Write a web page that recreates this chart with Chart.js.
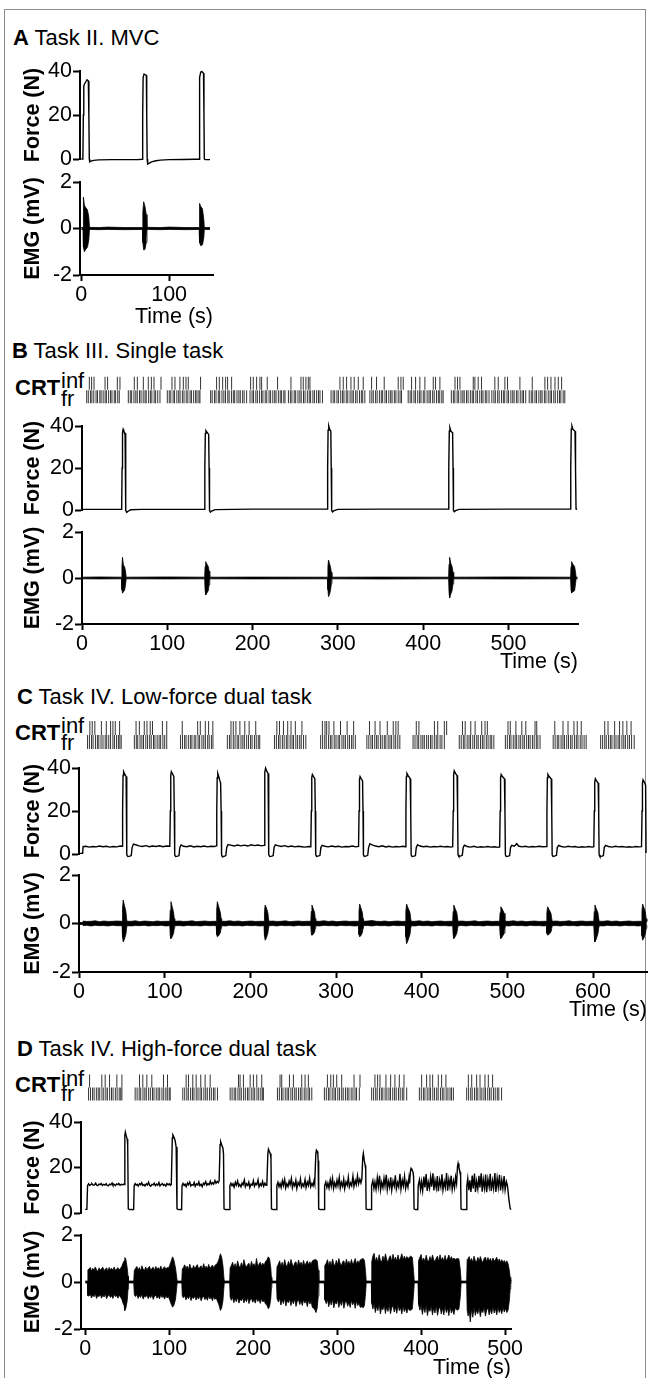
<!DOCTYPE html>
<html><head><meta charset="utf-8">
<script src="https://cdn.jsdelivr.net/npm/chart.js@4.4.1/dist/chart.umd.min.js"></script>
<style>
body{margin:0;background:#fff;}
#fig{position:relative;width:649px;height:1378px;overflow:hidden;background:#fff;font-family:"Liberation Sans",Arial,sans-serif;color:#000;}
#frame{position:absolute;left:4px;top:9px;width:642px;height:1400px;border:1.5px solid #8c8c8c;box-sizing:border-box;}
.t{position:absolute;font-size:22px;line-height:22px;white-space:nowrap;}
.b{font-weight:bold;}
canvas{position:absolute;left:0;}
</style></head><body>
<div id="fig"><div id="frame"></div>
<div class="t" style="left:13px;top:27px"><span class="b">A</span> Task II. MVC</div>
<div class="t" style="left:12px;top:340px"><span class="b">B</span> Task III. Single task</div>
<div class="t" style="left:17px;top:686px"><span class="b">C</span> Task IV. Low-force dual task</div>
<div class="t" style="left:17px;top:1038px"><span class="b">D</span> Task IV. High-force dual task</div>
<div class="t b" style="left:15px;top:377px">CRT</div><div class="t" style="left:61px;top:369.5px">inf</div><div class="t" style="left:61px;top:387.5px">fr</div>
<div class="t b" style="left:15px;top:722px">CRT</div><div class="t" style="left:61px;top:714.5px">inf</div><div class="t" style="left:61px;top:731.5px">fr</div>
<div class="t b" style="left:15px;top:1074px">CRT</div><div class="t" style="left:61px;top:1067.5px">inf</div><div class="t" style="left:61px;top:1083px">fr</div>
</div>
<script>
// ---------------- DATA ----------------
const forceTickVals = [0, 10, 20, 30, 40];
const forceTickLabels = [0, 20, 40];
const emgTickVals = [-2, -1, 0, 1, 2];
const emgTickLabels = [-2, 0, 2];
const timeTicksA = [0, 100];
const timeTicksB = [0, 100, 200, 300, 400, 500];
const timeTicksC = [0, 100, 200, 300, 400, 500, 600];
const timeTicksD = [0, 100, 200, 300, 400, 500];

// force traces [time s, force N]
const forceA = [[0,0],[1.8,0],[2.3,20],[2.8,33],[3.5,34],[5,35],[6.5,36],[8,35.5],[8.6,20],[9.1,0],[9.6,-1.3],[11,-1],[14,-0.6],[20,-0.4],[35,-0.3],[50,-0.3],[65,-0.2],[69.5,-0.1],[69.9,20],[70.4,37],[71.5,38.6],[73,38.3],[74.1,38],[74.5,20],[75,0],[75.6,-2.3],[77,-2],[80,-1.3],[85,-0.8],[90,-0.5],[100,-0.3],[115,-0.2],[130,-0.1],[134.1,-0.1],[134.5,20],[135,37],[136,39.5],[137.5,39.7],[139.2,39],[139.7,20],[140.1,0],[141,-0.3],[146.6,-0.3]];

const forceB = [[0,0.3],[20,0.3],[46.5,0.3],[47,20],[47.5,37],[48.2,38.4],[49,37.5],[50.5,36.5],[51,20],[51.5,-0.2],[52.5,-1.1],[54,-0.6],[57,0.1],[70,0.3],[100,0.3],[143.5,0.3],[144,20],[144.6,36.5],[145.3,37.8],[146.5,37],[148.5,36],[149,20],[149.5,-0.2],[150.5,-1],[152,-0.5],[156,0.2],[200,0.4],[240,0.4],[287.5,0.4],[288,20],[288.5,38],[289.3,40],[290.3,38.5],[291.7,37.5],[292.2,20],[292.7,-0.2],[293.7,-0.9],[295.5,-0.3],[300,0.3],[350,0.4],[429.5,0.4],[430,20],[430.6,37.5],[431.3,39.2],[432.5,37.5],[434.5,36.8],[435,20],[435.5,-0.2],[436.5,-0.8],[438,-0.3],[442,0.3],[500,0.4],[572.5,0.4],[573,20],[573.6,38.5],[574.4,40],[575.5,38.5],[578,37.5],[578.6,20],[579.2,0.5],[580.5,0.3]];

const forceC = [[0,0.3],[4.2,0.3],[4.8,3.4],[8,3.6],[12,3.2],[16,3.5],[20,3.3],[24,3.7],[28,3.4],[32,3.6],[36,3.2],[40,3.5],[44,3.3],[48,3.7],
[50.4,3.6],[50.9,20],[51.4,36.5],[52.1,38.3],[53.6,37],[55,36],[55.5,20],[56,-0.4],[57,-1.2],[59.5,-1],[61,-0.7],[62,3],[63.5,4.6],[66,4.3],[70,3.8],[74,3.5],[78,3.9],[82,3.4],[86,3.7],[90,3.5],[94,3.8],[98,3.4],[102,3.7],[106,3.6],
[106.6,20],[107.1,36.5],[107.8,38.3],[109.3,37.2],[110.7,36],[111.2,20],[111.7,-0.4],[112.7,-1.2],[115.2,-1],[116.7,-0.7],[117.7,3],[119.2,4.2],[122,3.6],[126,3.4],[130,3.8],[134,3.3],[138,3.6],[142,3.4],[146,3.7],[150,3.3],[154,3.6],[158,3.5],[160.2,3.8],
[160.8,20],[161.3,35.5],[162,37.5],[163.2,36],[164.5,34],[165.3,33],[165.9,20],[166.4,-0.4],[167.4,-1.3],[170,-1],[171.4,-0.7],[172.4,3],[174,4.4],[177,4.1],[181,3.7],[185,4.2],[189,3.8],[193,4.1],[197,3.7],[201,4.3],[205,3.9],[209,4.2],[213,3.8],[216,4],
[216.6,20],[217.1,38],[217.8,40],[219.2,38.5],[220.7,37.5],[221.2,20],[221.7,-0.4],[222.7,-1.2],[225.2,-1],[226.7,-0.7],[227.7,3],[229.2,4.3],[232,3.9],[236,3.5],[240,3.9],[244,3.4],[248,3.7],[252,3.3],[256,3.6],[260,3.4],[264,3.2],[268,3.5],[270.6,3.4],
[271.2,20],[271.7,35.5],[272.4,37],[273.8,36],[275.3,35],[275.8,20],[276.3,-0.4],[277.3,-1.1],[279.8,-0.9],[281.3,-0.6],[282.3,3],[283.8,4],[287,3.6],[291,3.3],[295,3.7],[299,3.4],[303,3.6],[307,3.2],[311,3.5],[315,3.4],[319,3.7],[323,3.3],[326.3,3.5],
[326.9,20],[327.4,34.5],[328.1,36],[329.5,35],[331,34],[331.5,20],[332,-0.4],[333,-1.1],[335.5,-0.9],[337,-0.6],[338,3],[339.5,4.8],[342,4.2],[346,3.7],[350,3.4],[354,3.8],[358,3.3],[362,3.6],[366,3.2],[370,3.5],[374,3.3],[378,3.6],[381,3.4],
[381.6,20],[382.1,36],[382.8,37.5],[384.2,36.5],[386.6,35],[387.2,20],[387.7,-0.4],[388.7,-1.2],[391.2,-1],[392.7,-0.7],[393.7,3],[395.2,4.3],[398,3.7],[402,3.4],[406,3.6],[410,3.2],[414,3.5],[418,3.3],[422,3.6],[426,3.3],[430,3.5],[434,3.2],[436.2,3.4],
[436.8,20],[437.3,37],[438,38.7],[439.4,37.5],[441.3,36.5],[441.9,20],[442.4,-0.4],[443.4,-1.1],[445.9,-0.9],[447.4,-0.6],[448.4,3],[449.9,4.1],[453,3.5],[457,3.2],[461,3.6],[465,3.1],[469,3.4],[473,3.2],[477,3.5],[481,3.2],[485,3.4],[489,3.1],[491,3.3],
[491.6,20],[492.1,35.5],[492.8,37],[494.2,36],[496.6,35],[497.2,20],[497.7,-0.4],[498.7,-1.2],[501.2,-1],[502.7,-0.7],[503.7,3],[505.2,4],[508,3.6],[511,4.8],[513,3.7],[517,3.3],[521,3.6],[525,3.2],[529,3.5],[533,3.3],[537,3.6],[541,3.4],[545.6,3.5],
[546.2,20],[546.7,35.5],[547.4,37],[548.8,36],[551.2,35],[551.8,20],[552.3,-0.4],[553.3,-1.1],[555.8,-0.9],[557.3,-0.6],[558.3,3],[559.8,4],[563,3.5],[567,3.2],[571,3.6],[575,3.3],[579,3.5],[583,3.1],[587,3.4],[591,3.2],[595,3.5],[599,3.2],[600.9,3.4],
[601.5,20],[602,33.5],[602.7,35],[604.1,34],[606,33],[606.6,20],[607.1,-0.4],[608.1,-1.2],[610.6,-1],[612.1,-0.7],[613.1,3],[614.6,4],[618,3.5],[622,3.2],[626,3.6],[630,3.3],[634,3.5],[638,3.2],[642,3.4],[646,3.2],[650,3.5],[654,3.3],[656.6,3.4],
[657.2,20],[657.7,33],[658.4,34.5],[659.8,33.5],[661.4,32],[661.9,0.5]];

const forceD = [[0,1.6],[2,1.6],[2.8,12],
[4,12.8],[5.5,12.1],[7,12.6],[8,12.9],[9.5,12.2],[11,12.4],[12.5,13.1],[13.5,12.3],[15,12],[16.5,12.7],[18,12.5],[19,13],[20.5,12.1],[22,12.6],[23.5,12.3],[25,12.9],[26,12.2],[27.5,11.9],[29,12.7],[30.5,12.4],[32,13.2],[33,12.3],[34.5,12.6],[36,12],[37.5,12.8],[39,12.5],[40,13],[41.5,12.2],[43,12.6],[44.5,12.4],[45.8,12.7],
[46.4,12.5],[47.2,34],[47.8,35.5],[48.8,34],[50,32.5],[50.6,30],[51.3,1.8],[53,1.5],[55,1.6],[57.7,1.5],[58.3,12],
[59.5,12.9],[60.8,12.2],[62,12.6],[63.2,11.8],[64.8,12.9],[66,12.4],[67.3,13.3],[68.5,12.1],[70,12.5],[71.2,11.9],[72.8,12.8],[74,12.3],[75.5,13.5],[76.6,12.2],[78,11.8],[79.5,12.6],[80.8,12.4],[82.2,13.1],[83.5,12],[85,12.7],[86.3,12.2],[87.8,13.4],[89,11.9],[90.5,12.5],[91.8,12.9],[93.2,12.1],[94.5,12.6],[96,11.8],[97.3,13],[98.8,12.4],[100.2,12.8],[101.5,12.1],[102.5,12.5],
[103.7,33],[104.4,34.3],[105.5,33.5],[107,32],[108.3,29],[109.3,1.8],[111,1.5],[113,1.6],[114.8,1.5],[115.3,12],
[116.5,13],[117.8,12.1],[119,12.7],[120.3,11.6],[121.8,13.2],[123,12.4],[124.5,13.6],[125.7,11.9],[127,12.5],[128.5,12.2],[129.8,13.4],[131,11.7],[132.5,12.8],[134,12.3],[135.3,13.7],[136.5,12],[138,12.6],[139.3,11.6],[140.8,13.1],[142,12.5],[143.5,13.8],[144.8,12.2],[146.2,12.9],[147.5,12.4],[149,14],[150.2,12.6],[151.7,13.3],[153,12.7],[154.5,14.3],[155.8,13.1],[157.2,13.9],[158.5,13.3],[159.5,14.2],
[160.6,30],[161.3,31.3],[162.5,30],[164,28.5],[164.7,26],[165.3,1.8],[167,1.5],[169,1.6],[171.8,1.5],[172.3,12],
[173.5,13.1],[174.8,12],[176,12.8],[177.3,11.3],[178.8,13.5],[180,12.2],[181.5,14.1],[182.7,11.8],[184,12.6],[185.5,11.5],[186.8,13.2],[188,12.4],[189.5,14.5],[190.7,11.6],[192,12.9],[193.5,12.1],[194.8,13.6],[196,11.2],[197.5,12.7],[199,12.3],[200.3,14.2],[201.5,11.7],[203,13],[204.3,12.4],[205.8,14.6],[207,11.5],[208.5,12.8],[209.8,12],[211.2,13.9],[212.5,11.8],[214,13.1],[215.3,12.2],[216.3,12.7],
[217.5,26],[218.2,28],[219.3,27],[220.5,26],[221.2,24],[221.8,1.8],[224,1.5],[226,1.6],[227.7,1.5],[228.2,12],
[229.5,13.5],[230.8,11.6],[232,13],[233.3,11.2],[234.8,14.2],[236,12.1],[237.5,14.8],[238.7,11],[240,12.9],[241.5,11.6],[242.8,14],[244,12.4],[245.5,15.2],[246.7,11.1],[248,13.2],[249.5,11.9],[250.8,14.4],[252,10.8],[253.5,13.4],[255,12.2],[256.3,15],[257.5,11.4],[259,12.8],[260.3,11.7],[261.8,14.7],[263,11.2],[264.5,13.6],[265.8,12.1],[267.2,15.3],[268.5,11.5],[270,13],[271.3,11.9],[272.5,14.2],[273.3,12.8],
[274.6,26],[275.3,27.6],[276.4,27],[277,26],[277.4,23],[278,1.8],[280,1.5],[282,1.6],[284.6,1.5],[285.1,12],
[286.5,13.6],[287.8,11.2],[289,13.1],[290.3,10.9],[291.8,14.6],[293,11.8],[294.5,15.3],[295.7,10.8],[297,13.3],[298.5,11.5],[299.8,14.4],[301,12],[302.5,15.6],[303.7,11],[305,13.5],[306.5,11.7],[307.8,14.8],[309,10.7],[310.5,13.7],[312,12.2],[313.3,15.8],[314.5,11.4],[316,13.2],[317.3,12],[318.8,16.2],[320,11.6],[321.5,14.3],[322.8,12.5],[324.2,16.4],[325.5,12.8],[327,14.9],[328.3,13.2],[329.4,15],
[330.5,24.5],[331.2,26.2],[332.3,23],[333.3,21],[334,19],[334.5,1.8],[336.5,1.5],[338.5,1.6],[340.5,1.5],[341,12],
[342.5,14.2],[343.8,10.8],[345,13.6],[346.3,10.4],[347.8,15.5],[349,11.5],[350.5,16.4],[351.7,10.2],[353,13.5],[354.5,11.1],[355.8,15.2],[357,11.9],[358.5,16.8],[359.7,10.3],[361,13.9],[362.5,11.3],[363.8,15.7],[365,10.1],[366.5,14.1],[368,11.8],[369.3,16.6],[370.5,10.6],[372,13.4],[373.3,11.5],[374.8,17.2],[376,10.5],[377.5,14.4],[378.8,11.9],[380.2,16.1],[381.5,10.8],[383,13.7],[384.3,11.4],[385.5,15.4],[386.2,13],
[387.3,18.5],[388,19.6],[389,19],[390.3,18],[391,16],[391.6,1.8],[393,1.5],[395,1.6],[396,1.5],[396.5,12],
[398,14.6],[399.3,10.3],[400.5,13.8],[401.8,9.8],[403.3,16],[404.5,11.2],[406,17.1],[407.2,9.7],[408.5,13.6],[410,10.9],[411.3,15.8],[412.5,11.6],[414,17.4],[415.2,9.9],[416.5,14.4],[418,11],[419.3,16.2],[420.5,9.6],[422,14.6],[423.5,11.5],[424.8,17],[426,10.1],[427.5,13.8],[428.8,11.2],[430.3,17.6],[431.5,9.8],[433,14.8],[434.3,11.6],[435.8,16.4],[437,10.4],[438.5,14.1],[439.8,11.1],[441,15.8],[442.2,13],
[443.3,20.5],[444,21.8],[445,20],[446.4,18],[447,16],[447.5,1.8],[449.5,1.5],[451.5,1.6],[453.9,1.5],[454.4,12],
[455.5,15.2],[456.8,10],[458,14.4],[459.3,9.3],[460.8,16.5],[462,10.8],[463.5,17.3],[464.7,9.2],[466,14],[467.5,10.6],[468.8,16.4],[470,11.2],[471.5,17.5],[472.7,9.4],[474,14.8],[475.5,10.9],[476.8,16.9],[478,9.1],[479.5,15],[481,11.4],[482.3,17.2],[483.5,9.7],[485,14.2],[486.3,10.8],[487.8,17.6],[489,9.3],[490.5,15.4],[491.8,11.3],[493.3,16.8],[494.5,9.9],[496,14.6],[497.3,10.7],[498.8,16.2],[500,10.2],[501.5,13.8],[502.8,12],[504.5,6],[506,2],[507,1.5]];

// EMG envelopes [time s, lower mV, upper mV]
const emgA = [[0,-0.04,0.04],[2,-0.04,0.04],[2.4,-0.8,1.35],[3.5,-1.0,1.0],[5,-0.9,0.9],[7,-0.8,0.8],[8.5,-0.5,0.5],[9.3,-0.04,0.05],[20,-0.05,0.04],[30,-0.04,0.06],[50,-0.05,0.04],[69.6,-0.04,0.04],[70.1,-0.6,0.7],[71,-0.92,1.15],[72.5,-0.9,0.95],[74,-0.6,0.6],[74.8,-0.04,0.05],[90,-0.05,0.04],[100,-0.04,0.06],[120,-0.05,0.04],[134.2,-0.04,0.04],[134.7,-0.6,1.08],[136,-0.74,0.95],[138,-0.7,0.85],[139.5,-0.4,0.4],[140.1,-0.04,0.04],[146.6,-0.04,0.04]];

const emgB = [[0,-0.035,0.035],[20,-0.04,0.045],[46.3,-0.035,0.035],[46.8,-0.5,0.5],[47.5,-0.66,0.9],[48.5,-0.6,0.56],[49.8,-0.55,0.5],[51,-0.3,0.3],[51.8,-0.035,0.035],[100,-0.04,0.045],[143.8,-0.035,0.035],[144.3,-0.5,0.5],[145,-0.74,0.71],[146.5,-0.65,0.6],[148,-0.55,0.5],[149,-0.3,0.3],[149.8,-0.035,0.035],[200,-0.04,0.04],[287.8,-0.035,0.035],[288.3,-0.5,0.5],[289,-0.81,0.78],[290.3,-0.7,0.62],[291.5,-0.5,0.45],[292.3,-0.25,0.25],[293,-0.035,0.035],[350,-0.045,0.04],[429.8,-0.035,0.035],[430.3,-0.6,0.6],[431,-0.87,0.9],[432.3,-0.7,0.65],[433.8,-0.55,0.5],[435,-0.25,0.25],[435.8,-0.035,0.035],[500,-0.04,0.045],[572.8,-0.035,0.035],[573.3,-0.5,0.5],[574,-0.64,0.71],[575.5,-0.6,0.6],[577.5,-0.55,0.5],[578.6,-0.25,0.25],[579.3,-0.035,0.035],[581,-0.035,0.035]];

const emgC = [[0,-0.04,0.04],[4.3,-0.04,0.04],[4.9,-0.09,0.1],[9,-0.075,0.085],[14,-0.1,0.09],[19,-0.075,0.11],[24,-0.09,0.075],[29,-0.085,0.1],[34,-0.1,0.085],[39,-0.075,0.09],[44,-0.09,0.1],[50.3,-0.09,0.09],
[50.8,-0.55,0.6],[51.6,-0.76,0.97],[53,-0.65,0.75],[54.7,-0.45,0.5],[55.5,-0.2,0.2],[56.1,-0.09,0.09],
[61,-0.1,0.09],[66,-0.085,0.11],[71,-0.09,0.075],[76,-0.075,0.1],[81,-0.1,0.09],[86,-0.085,0.075],[91,-0.09,0.1],[96,-0.075,0.085],[101,-0.1,0.09],[106,-0.09,0.09],
[106.5,-0.5,0.55],[107.3,-0.62,0.9],[108.7,-0.55,0.7],[110.4,-0.4,0.45],[111.2,-0.2,0.2],[111.8,-0.09,0.09],
[117,-0.085,0.1],[122,-0.1,0.085],[127,-0.075,0.09],[132,-0.09,0.11],[137,-0.085,0.075],[142,-0.1,0.09],[147,-0.075,0.1],[152,-0.09,0.085],[157,-0.085,0.09],[160.2,-0.09,0.09],
[160.7,-0.45,0.55],[161.5,-0.55,0.9],[163,-0.5,0.7],[165,-0.38,0.45],[165.9,-0.2,0.2],[166.5,-0.09,0.09],
[171,-0.1,0.09],[176,-0.075,0.11],[181,-0.09,0.085],[186,-0.085,0.1],[191,-0.1,0.075],[196,-0.075,0.09],[201,-0.09,0.1],[206,-0.085,0.085],[211,-0.1,0.09],[216,-0.09,0.09],
[216.5,-0.5,0.5],[217.3,-0.69,0.76],[218.7,-0.6,0.65],[220.4,-0.4,0.45],[221.2,-0.2,0.2],[221.8,-0.09,0.09],
[226,-0.085,0.1],[231,-0.1,0.085],[236,-0.075,0.09],[241,-0.09,0.11],[246,-0.085,0.075],[251,-0.1,0.09],[256,-0.075,0.1],[261,-0.09,0.085],[266,-0.085,0.09],[270.6,-0.09,0.09],
[271.1,-0.4,0.5],[271.9,-0.48,0.76],[273.3,-0.45,0.62],[275,-0.35,0.45],[275.8,-0.2,0.2],[276.4,-0.09,0.09],
[281,-0.1,0.09],[286,-0.075,0.11],[291,-0.09,0.085],[296,-0.085,0.1],[301,-0.1,0.075],[306,-0.075,0.09],[311,-0.09,0.1],[316,-0.085,0.085],[321,-0.1,0.09],[326.3,-0.09,0.09],
[326.8,-0.45,0.5],[327.6,-0.55,0.8],[329,-0.5,0.65],[330.7,-0.38,0.45],[331.5,-0.2,0.2],[332.1,-0.09,0.09],
[337,-0.085,0.1],[342,-0.1,0.12],[347,-0.075,0.09],[352,-0.09,0.085],[357,-0.085,0.1],[362,-0.1,0.075],[367,-0.075,0.09],[372,-0.09,0.1],[377,-0.085,0.085],[381,-0.09,0.09],
[381.5,-0.55,0.5],[382.4,-0.83,0.8],[384,-0.7,0.65],[386.3,-0.45,0.45],[387.2,-0.2,0.2],[387.8,-0.09,0.09],
[392,-0.1,0.09],[397,-0.075,0.11],[402,-0.09,0.085],[407,-0.085,0.1],[412,-0.1,0.075],[417,-0.075,0.09],[422,-0.09,0.1],[427,-0.085,0.085],[432,-0.1,0.09],[436.2,-0.09,0.09],
[436.7,-0.45,0.5],[437.5,-0.62,0.76],[439,-0.55,0.62],[441,-0.4,0.45],[441.9,-0.2,0.2],[442.5,-0.09,0.09],
[447,-0.085,0.1],[452,-0.1,0.085],[457,-0.075,0.09],[462,-0.09,0.11],[467,-0.085,0.075],[472,-0.1,0.09],[477,-0.075,0.1],[482,-0.09,0.085],[487,-0.085,0.09],[491,-0.09,0.09],
[491.5,-0.45,0.45],[492.4,-0.62,0.69],[494,-0.55,0.6],[496.3,-0.4,0.42],[497.2,-0.2,0.2],[497.8,-0.09,0.09],
[502,-0.1,0.09],[507,-0.075,0.11],[512,-0.09,0.085],[517,-0.085,0.1],[522,-0.1,0.075],[527,-0.075,0.09],[532,-0.09,0.1],[537,-0.085,0.085],[542,-0.1,0.09],[545.6,-0.09,0.09],
[546.1,-0.4,0.45],[547,-0.48,0.69],[548.6,-0.45,0.58],[550.9,-0.35,0.42],[551.8,-0.2,0.2],[552.4,-0.09,0.09],
[557,-0.085,0.1],[562,-0.1,0.085],[567,-0.075,0.09],[572,-0.09,0.11],[577,-0.085,0.075],[582,-0.1,0.09],[587,-0.075,0.1],[592,-0.09,0.085],[597,-0.085,0.09],[600.9,-0.09,0.09],
[601.4,-0.5,0.5],[602.2,-0.76,0.76],[603.7,-0.65,0.62],[605.7,-0.42,0.45],[606.6,-0.2,0.2],[607.2,-0.09,0.09],
[612,-0.1,0.09],[617,-0.075,0.11],[622,-0.09,0.085],[627,-0.085,0.1],[632,-0.1,0.075],[637,-0.075,0.09],[642,-0.09,0.1],[647,-0.085,0.085],[652,-0.1,0.09],[656.6,-0.09,0.09],
[657.1,-0.5,0.5],[657.9,-0.69,0.8],[659.4,-0.6,0.65],[661.2,-0.4,0.45],[662,-0.2,0.2],[662.8,-0.08,0.08]];

const emgD = [[0,-0.04,0.04],[2.6,-0.04,0.04],[3.2,-0.58,0.52],
[4.5,-0.6,0.55],[6,-0.52,0.62],[7.5,-0.68,0.47],[9,-0.55,0.58],[10.5,-0.63,0.5],[12,-0.5,0.64],[13.5,-0.7,0.52],[15,-0.58,0.45],[16.5,-0.62,0.6],[18,-0.53,0.5],[19.5,-0.69,0.57],[21,-0.56,0.63],[22.5,-0.64,0.48],[24,-0.51,0.55],[25.5,-0.71,0.6],[27,-0.6,0.46],[28.5,-0.54,0.62],[30,-0.66,0.53],[31.5,-0.58,0.58],[33,-0.7,0.5],[34.5,-0.52,0.64],[36,-0.63,0.49],[37.5,-0.57,0.56],[39,-0.69,0.61],[40.5,-0.55,0.52],[42,-0.65,0.58],[43.5,-0.72,0.66],
[45,-0.9,0.8],[46.3,-1.0,0.9],[47.2,-1.21,1.04],[48.5,-1.1,0.95],[50,-0.8,0.6],[51,-0.3,0.25],[51.5,-0.04,0.04],[57.8,-0.04,0.04],[58.5,-0.55,0.5],
[60,-0.62,0.58],[61.5,-0.53,0.66],[63,-0.7,0.5],[64.5,-0.57,0.62],[66,-0.66,0.47],[67.5,-0.52,0.69],[69,-0.73,0.55],[70.5,-0.6,0.49],[72,-0.64,0.64],[73.5,-0.55,0.52],[75,-0.71,0.6],[76.5,-0.58,0.67],[78,-0.67,0.5],[79.5,-0.53,0.58],[81,-0.74,0.63],[82.5,-0.61,0.48],[84,-0.56,0.66],[85.5,-0.69,0.55],[87,-0.6,0.61],[88.5,-0.72,0.52],[90,-0.54,0.68],[91.5,-0.66,0.51],[93,-0.59,0.59],[94.5,-0.73,0.65],[96,-0.57,0.54],[97.5,-0.68,0.62],[99,-0.62,0.58],[100.5,-0.76,0.7],
[102.5,-0.95,0.9],[104,-1.07,1.07],[105.5,-1.0,0.95],[107.5,-0.75,0.6],[108.8,-0.3,0.25],[109.5,-0.04,0.04],[115,-0.04,0.04],[115.6,-0.6,0.55],
[117,-0.68,0.62],[118.5,-0.57,0.73],[120,-0.76,0.55],[121.5,-0.62,0.68],[123,-0.72,0.52],[124.5,-0.56,0.76],[126,-0.79,0.6],[127.5,-0.65,0.54],[129,-0.7,0.7],[130.5,-0.6,0.57],[132,-0.77,0.66],[133.5,-0.63,0.74],[135,-0.73,0.55],[136.5,-0.58,0.63],[138,-0.8,0.69],[139.5,-0.66,0.53],[141,-0.61,0.78],[142.5,-0.75,0.6],[144,-0.65,0.67],[145.5,-0.78,0.56],[147,-0.59,0.75],[148.5,-0.72,0.58],[150,-0.64,0.65],[151.5,-0.8,0.72],[153,-0.62,0.6],[154.5,-0.74,0.7],[156,-0.68,0.76],[157.5,-0.82,0.8],
[159.5,-1.0,1.0],[161,-1.21,1.2],[162.5,-1.1,1.05],[164,-0.8,0.7],[165,-0.3,0.25],[165.6,-0.04,0.04],[172,-0.04,0.04],[172.6,-0.65,0.6],
[174,-0.78,0.7],[175.5,-0.65,0.84],[177,-0.88,0.62],[178.5,-0.7,0.78],[180,-0.84,0.6],[181.5,-0.64,0.9],[183,-0.9,0.68],[184.5,-0.74,0.62],[186,-0.8,0.82],[187.5,-0.67,0.65],[189,-0.89,0.95],[190.5,-0.72,0.72],[192,-0.84,0.63],[193.5,-0.66,0.74],[195,-0.92,0.8],[196.5,-0.76,0.6],[198,-0.7,0.88],[199.5,-0.86,0.68],[201,-0.74,0.78],[202.5,-0.9,0.64],[204,-0.68,1.0],[205.5,-0.83,0.66],[207,-0.73,0.76],[208.5,-0.91,0.84],[210,-0.7,0.68],[211.5,-0.85,0.8],[213,-0.78,0.7],[214.5,-0.92,0.86],
[216.5,-1.0,0.95],[218,-1.14,1.07],[219.5,-1.05,1.0],[221,-0.7,0.6],[221.7,-0.25,0.2],[222.2,-0.04,0.04],[227.8,-0.04,0.04],[228.4,-0.7,0.65],
[230,-0.85,0.76],[231.5,-0.7,0.9],[233,-0.98,0.66],[234.5,-0.75,0.84],[236,-0.92,0.64],[237.5,-0.68,0.95],[239,-1.02,0.72],[240.5,-0.8,0.66],[242,-0.88,0.88],[243.5,-0.72,0.7],[245,-1.0,0.96],[246.5,-0.78,0.76],[248,-0.93,0.65],[249.5,-0.7,0.82],[251,-1.04,0.86],[252.5,-0.82,0.64],[254,-0.76,0.94],[255.5,-0.96,0.72],[257,-0.8,0.84],[258.5,-1.0,0.68],[260,-0.74,0.92],[261.5,-0.9,0.7],[263,-0.79,0.8],[264.5,-1.05,0.9],[266,-0.76,0.72],[267.5,-0.94,0.86],[269,-0.84,0.75],[270.5,-1.08,0.9],
[273,-1.15,0.95],[274.8,-1.3,0.95],[276.3,-1.1,0.9],[277.5,-0.6,0.5],[278.3,-0.04,0.04],[284.7,-0.04,0.04],[285.3,-0.75,0.7],
[287,-0.92,0.8],[288.5,-0.74,0.95],[290,-1.05,0.7],[291.5,-0.8,0.88],[293,-0.98,0.68],[294.5,-0.72,0.98],[296,-1.1,0.76],[297.5,-0.86,0.7],[299,-0.94,0.92],[300.5,-0.76,0.74],[302,-1.08,1.0],[303.5,-0.83,0.8],[305,-1.0,0.68],[306.5,-0.75,0.86],[308,-1.12,0.9],[309.5,-0.88,0.68],[311,-0.8,0.97],[312.5,-1.03,0.76],[314,-0.86,0.88],[315.5,-1.08,0.72],[317,-0.78,0.96],[318.5,-0.97,0.74],[320,-0.84,0.84],[321.5,-1.12,1.0],[323,-0.8,0.76],[324.5,-1.0,0.9],[326,-0.9,0.8],[327.5,-1.08,0.94],
[329.5,-1.05,0.98],[331,-1.1,1.0],[332.5,-1.0,0.92],[333.8,-0.5,0.45],[334.6,-0.04,0.04],[340.6,-0.04,0.04],[341.2,-0.9,0.85],
[342.5,-1.15,1.1],[344,-0.95,1.22],[345.5,-1.3,0.86],[347,-1.02,1.05],[348.5,-1.22,0.84],[350,-0.94,1.16],[351.5,-1.36,0.92],[353,-1.08,0.85],[354.5,-1.18,1.1],[356,-0.98,0.9],[357.5,-1.34,1.2],[359,-1.05,0.96],[360.5,-1.25,0.83],[362,-0.96,1.04],[363.5,-1.35,1.12],[365,-1.1,0.86],[366.5,-1.0,1.18],[368,-1.28,0.92],[369.5,-1.06,1.06],[371,-1.33,0.88],[372.5,-0.98,1.15],[374,-1.22,0.9],[375.5,-1.08,1.02],[377,-1.36,1.2],[378.5,-1.02,0.94],[380,-1.26,1.1],[381.5,-1.12,0.96],[383,-1.32,1.08],[384.5,-1.1,1.0],[385.8,-1.2,1.05],
[387.5,-1.2,1.1],[389.5,-1.15,1.05],[391,-0.5,0.45],[391.8,-0.04,0.04],[396.3,-0.04,0.04],[396.9,-0.95,0.9],
[398.5,-1.2,1.05],[400,-1.0,1.17],[401.5,-1.38,0.88],[403,-1.05,1.02],[404.5,-1.3,0.86],[406,-0.98,1.14],[407.5,-1.43,0.92],[409,-1.12,0.88],[410.5,-1.25,1.08],[412,-1.02,0.9],[413.5,-1.4,1.15],[415,-1.1,0.95],[416.5,-1.32,0.86],[418,-1.0,1.02],[419.5,-1.42,1.1],[421,-1.15,0.87],[422.5,-1.05,1.16],[424,-1.36,0.92],[425.5,-1.1,1.04],[427,-1.4,0.88],[428.5,-1.02,1.13],[430,-1.3,0.9],[431.5,-1.12,1.0],[433,-1.43,1.15],[434.5,-1.05,0.94],[436,-1.32,1.08],[437.5,-1.16,0.95],[439,-1.38,1.02],[440.5,-1.12,0.96],
[443,-1.2,1.0],[445,-1.15,0.98],[446.7,-0.6,0.5],[447.6,-0.04,0.04],[454.2,-0.04,0.04],[454.8,-1.2,0.95],
[456,-1.45,1.0],[457.3,-1.2,1.08],[458.5,-1.7,0.88],[460,-1.15,1.0],[461.5,-1.5,0.84],[463,-1.08,1.1],[464.5,-1.42,0.9],[466,-1.2,0.85],[467.5,-1.35,1.05],[469,-1.1,0.88],[470.5,-1.48,1.08],[472,-1.18,0.92],[473.5,-1.3,0.83],[475,-1.06,1.0],[476.5,-1.45,1.06],[478,-1.2,0.86],[479.5,-1.1,1.04],[481,-1.4,0.9],[482.5,-1.16,1.0],[484,-1.36,0.84],[485.5,-1.05,1.02],[487,-1.32,0.88],[488.5,-1.12,0.96],[490,-1.4,1.05],[491.5,-1.08,0.86],[493,-1.3,0.98],[494.5,-1.15,0.84],[496,-1.35,0.95],[497.5,-1.08,0.82],[499,-1.28,0.92],[500.5,-1.12,0.8],[502,-1.3,0.9],[503.5,-1.2,0.78],[505,-0.8,0.5],[506,-0.3,0.2],[506.7,-0.04,0.04],[508,-0.04,0.04]];

// CRT stimulus times (s): infrequent (inf) and frequent (fr)
const crtB_inf = [8.6,11.3,14.1,27,30,41.4,44.5,61.3,64.9,71.9,77.7,81.3,84.4,92.6,105.5,109,114.8,118.8,121.9,124.6,139,157.8,161,164.9,168.4,170.7,175.4,197.7,200.8,204.7,208.6,210.6,217.2,229.3,245,256.7,259.4,262.5,265.3,267.2,302.4,306.3,310.2,315.3,319.1,323.9,329.7,339.5,345.3,354.3,370.7,373.9,376.6,386.4,391.1,396.1,402,411.8,414.5,419.6,437.3,440.3,443.1,458.7,460.6,464.5,468.4,484,488,495.8,498.9,513.4,527.9,542.7,545.9,549.8,554.5,558.4,562.3];
const crtB_fr = [5.5,7.4,9.9,11.6,13.8,16.5,18.2,20.9,22.4,24.8,27.1,28.6,31.2,33.5,35.1,37.8,39.4,41.9,43.7,
54.3,56.6,58.2,60.9,63.1,64.8,67.4,69.2,71.7,73.9,75.3,78.1,80.2,81.9,84.6,86.3,88.8,91.4,
100,102.3,104.1,106.8,108.5,111.2,113.4,115,117.7,119.6,122.2,124.1,126.7,128.3,130.9,133.2,134.8,137.1,138.3,
150.8,152.6,155.3,157.1,159.8,161.4,164.1,166.3,168.2,170.9,172.5,175.2,177.4,179,181.7,183.9,185.6,188.3,190.1,193,
197,199.4,201.1,203.8,205.6,208.2,210.5,212.1,214.8,216.6,219.3,221.1,223.7,225.9,227.5,230.2,232.4,234,236.6,238,
242,244.3,246.1,248.8,250.5,253.2,255.4,257,259.7,261.5,264.2,266.4,268,270.7,272.5,275.1,277.3,279,281.9,
292,294.4,296.2,298.9,300.6,303.3,305.5,307.1,309.8,311.6,314.3,316.5,318.1,320.8,322.6,325.3,327.5,329.1,331.6,
337.5,339.8,341.5,344.2,346,348.7,350.9,352.5,355.2,357,359.7,361.9,363.5,366.2,368,370.7,372.9,374.6,
382.4,384.7,386.5,389.2,390.9,393.6,395.8,397.4,400.1,401.9,404.6,406.8,408.4,411.1,412.9,415.6,417.8,419.4,421.8,423.4,
433,435.4,437.1,439.8,441.6,444.3,446.5,448.1,450.8,452.6,455.3,457.5,459.1,461.8,463.6,466.3,468.5,470.1,472.8,474.6,477.2,
480.5,482.9,484.6,487.3,489.1,491.8,494,495.6,498.3,500.1,502.8,505,506.6,509.3,511.1,513.8,516,517.6,520.2,
524.3,526.7,528.4,531.1,532.9,535.6,537.8,539.4,542.1,543.9,546.6,548.8,550.4,553.1,554.9,557.6,559.8,561.4,564.1,566];

const crtC_inf = [12.8,15.6,18.7,26.4,32.2,37.3,40,42.8,47.9,67.3,71.2,77,80.2,84,86.7,98.4,103.5,121.8,140,143.1,149,152.9,157.9,179.3,182,185.1,189.8,195.6,200.7,208.5,233.4,236.5,241.2,246.2,250.1,255.2,263,287.1,290.2,292.2,294.9,300.7,308.5,316.3,324,342.7,349.3,355.1,363.7,370.7,373.8,376.5,397.9,401,419.3,423.2,431,433.7,452.4,455.6,462.2,467.3,475.1,479,481.7,506.1,508.8,515.4,522.4,527.1,538,540,561.3,571,576.9,583.9,587.8,592.5,620.2,624.1,631.9,637.7,641.6,646.3,651.3];
const crtC_fr = [10.1,12.3,14.8,16.6,19.4,21.7,23.4,26,28.3,30.9,32.7,35.1,37.2,40,41.8,44.3,46.5,48.2,49.8,
65.3,67.6,69.3,72,74.2,76.1,78.8,80.9,83.4,85.2,87.9,89.6,92.2,94.5,96.3,99,101.1,103.5,
119.8,122.1,124.6,126.3,129,131.4,133.2,135.9,137.8,140.5,142.3,145,147.2,149.1,151.8,153.6,156.2,158,
175,177.5,179.3,182,184.1,186.6,188.4,191.1,193.3,195.1,197.8,200,202.4,204.2,207,209.1,211.5,213.2,
230.6,232.9,235.4,237.2,239.9,242,244.6,246.4,249.1,251.3,253.1,255.8,257.9,260.4,262.2,264.9,267.6,
285.1,287.4,289.9,291.7,294.4,296.6,298.4,301.1,303.2,305.7,307.5,310.2,312.4,314.3,317,319.1,321.6,323.4,326,
339.6,341.9,344.4,346.2,348.9,351.1,352.9,355.6,357.7,360.2,362,364.7,366.9,368.8,371.5,373.6,376.1,378.5,
394.1,396.4,398.9,400.7,403.4,405.6,407.4,410.1,412.2,414.7,416.5,419.2,421.4,423.3,426,428.1,431,
448.6,450.9,453.4,455.2,457.9,460.1,461.9,464.6,466.7,469.2,471,473.7,475.9,477.8,480.5,482.6,485.1,486.9,489.4,
503,505.3,507.8,509.6,512.3,514.5,516.3,519,521.1,523.6,525.4,528.1,530.3,532.2,534.9,537,539.5,541.3,543.9,
559.4,561.7,564.2,566,568.7,570.9,572.7,575.4,577.5,580,581.8,584.5,586.7,588.6,591.3,593.4,595.9,598.3,
615.4,617.7,620.2,622,624.7,626.9,628.7,631.4,633.5,636,637.8,640.5,642.7,644.6,647.3,649.4,651.9,655];

const crtD_inf = [5.2,19.8,23.8,29,37.7,43.7,64.7,68.6,73.4,79.3,93.2,98,120.2,123,128.1,132.1,137.6,142.8,148.8,182.5,184.4,188.4,196.4,200.3,204.3,210.2,232,234,243.2,247.9,257.8,261.8,265.7,288.4,292.4,295.5,299.5,305.4,320.1,327.2,345,348.2,351,358.1,363.7,368.8,374,379.6,400.6,406.5,410.5,413.7,420.4,424.4,429.5,456.2,460.2,466.1,470.1,476,480,485.1];
const crtD_fr = [4,6.3,8.8,10.6,13.3,15.5,17.3,20,22.1,24.6,26.4,29.1,31.3,33.2,35.9,38,40.5,42.3,43.7,
59.5,61.8,64.3,66.1,68.8,71,72.8,75.5,77.6,80.1,81.9,84.6,86.8,88.7,91.4,93.5,96,97.8,100,101.2,
116.2,118.5,121,122.8,125.5,127.7,129.5,132.2,134.3,136.8,138.6,141.3,143.5,145.4,148.1,150.2,152.7,154.5,157.5,
172.6,174.9,177.4,179.2,181.9,184.1,185.9,188.6,190.7,193.2,195,197.7,199.9,201.8,204.5,206.6,209.1,210.9,212.2,
228.9,231.2,233.7,235.5,238.2,240.4,242.2,244.9,247,249.5,251.3,254,256.2,258.1,260.8,262.9,265.4,267.2,269.8,
284.8,287.1,289.6,291.4,294.1,296.3,298.1,300.8,302.9,305.4,307.2,309.9,312.1,314,316.7,318.8,321.3,323.1,326.4,
341.1,343.4,345.9,347.7,350.4,352.6,354.4,357.1,359.2,361.7,363.5,366.2,368.4,370.3,373,375.1,377.6,379.4,382.8,
397.9,400.2,402.7,404.5,407.2,409.4,411.2,413.9,416,418.5,420.3,423,425.2,427.1,429.8,431.9,434.4,436.2,438.4,
454.2,456.5,459,460.8,463.5,465.7,467.5,470.2,472.3,474.8,476.6,479.3,481.5,483.4,486.1,488.2,490.7,492.5,495.8];

// ---------------- LAYOUT (pixel geometry, not data) ----------------
const W = 649;
const panels = {
  A:{xMin:-1.5,xMax:150,left:80,right:213,fTop:71,fBot:159,eTop:182,eBot:275,tpb:7,ticks:timeTicksA},
  B:{xMin:0,xMax:581.5,left:82,right:578,rTop:373.5,rBot:405.5,rr:6.5,fTop:426,fBot:510,eTop:532,eBot:624,tpb:11,ticks:timeTicksB},
  C:{xMin:0,xMax:663,left:79,right:647,rTop:717.5,rBot:751.5,rr:7,fTop:768,fBot:854,eTop:875,eBot:972,tpb:11,ticks:timeTicksC},
  D:{xMin:-5,xMax:507,left:81,right:511,rTop:1072.25,rBot:1103.25,rr:6.5,fTop:1122,fBot:1213,eTop:1235,eBot:1329,tpb:10,ticks:timeTicksD}
};

const FONT = '"Liberation Sans", Arial, sans-serif';
Chart.defaults.font.family = FONT;
Chart.defaults.color = '#000';
const fig = document.getElementById('fig');

function addCanvas(top, h){
  const c = document.createElement('canvas');
  c.width = W; c.height = h;
  c.style.top = top + 'px'; c.style.width = W + 'px'; c.style.height = h + 'px';
  fig.appendChild(c);
  return c;
}
const baseOpts = {responsive:false, maintainAspectRatio:false, animation:false, events:[],
  plugins:{legend:{display:false}, tooltip:{enabled:false}}};
const axisGrid = {display:true, drawOnChartArea:false, drawTicks:true, tickLength:7, tickWidth:2, tickColor:'#000', color:'#000'};
const axisBorder = {display:true, width:2, color:'#000'};
const tickFont = {size:21.5, family:FONT};
const titleFont = {size:21.5, weight:'bold', family:FONT};

function yAxis(g, min, max, vals, labels, title){
  return {type:'linear', min, max,
    afterFit: s => { s.width = g.left - 20; },
    afterBuildTicks: s => { s.ticks = vals.map(v => ({value:v})); },
    ticks:{font:tickFont, padding:1, color:'#000', callback: v => labels.includes(v) ? String(v) : ''},
    grid: axisGrid, border: axisBorder,
    title:{display:true, text:title, font:titleFont, padding:0, color:'#000'}};
}

function forceChart(g, pts){
  const c = addCanvas(g.fTop - 20, g.fBot - g.fTop + 40);
  new Chart(c, {type:'line',
    data:{datasets:[{data: pts.map(p => ({x:p[0], y:p[1]})), borderColor:'#000', borderWidth:1.4, pointRadius:0, tension:0, fill:false, clip:false}]},
    options:Object.assign({}, baseOpts, {
      layout:{padding:{left:20, right:W - g.right, top:20, bottom:20}},
      scales:{
        x:{type:'linear', display:false, min:g.xMin, max:g.xMax},
        y:yAxis(g, 0, 40, forceTickVals, forceTickLabels, 'Force (N)')
      }})});
}

function emgChart(g, env){
  const Hx = 62, pb = 4;
  const c = addCanvas(g.eTop - 20, 20 + (g.eBot - g.eTop) + Hx + pb);
  new Chart(c, {type:'line',
    data:{datasets:[
      {data: env.map(p => ({x:p[0], y:p[1]})), borderColor:'#000', borderWidth:0.8, pointRadius:0, tension:0, fill:false, clip:false},
      {data: env.map(p => ({x:p[0], y:p[2]})), borderColor:'#000', borderWidth:0.8, pointRadius:0, tension:0, fill:'-1', backgroundColor:'#000', clip:false}
    ]},
    options:Object.assign({}, baseOpts, {
      layout:{padding:{left:20, right:W - g.right, top:20, bottom:pb}},
      scales:{
        x:{type:'linear', position:'bottom', min:g.xMin, max:g.xMax,
          afterFit: s => { s.height = Hx; },
          afterBuildTicks: s => { s.ticks = g.ticks.map(v => ({value:v})); },
          ticks:{font:tickFont, padding:1, color:'#000', maxRotation:0, autoSkip:false, callback: v => String(v)},
          grid:Object.assign({}, axisGrid, {tickLength:6}), border:axisBorder,
          title:{display:true, text:'Time (s)', align:'end', font:{size:21.5, family:FONT}, padding:{top:0, bottom:g.tpb}, color:'#000'}},
        y:yAxis(g, -2, 2, emgTickVals, emgTickLabels, 'EMG (mV)')
      }})});
}

function rasterChart(g, inf, fr){
  const c = addCanvas(g.rTop - 5, g.rBot - g.rTop + 10);
  const st = {pointStyle:'line', pointRotation:90, pointRadius:g.rr, pointBorderWidth:1, pointBorderColor:'rgba(0,0,0,0.8)', showLine:false, clip:false};
  new Chart(c, {type:'scatter',
    data:{datasets:[
      Object.assign({data: inf.map(t => ({x:t, y:1.5}))}, st),
      Object.assign({data: fr.map(t => ({x:t, y:0.5}))}, st)
    ]},
    options:Object.assign({}, baseOpts, {
      layout:{padding:{left:g.left, right:W - g.right, top:5, bottom:5}},
      scales:{
        x:{type:'linear', display:false, min:g.xMin, max:g.xMax},
        y:{type:'linear', display:false, min:0, max:2}
      }})});
}

forceChart(panels.A, forceA); emgChart(panels.A, emgA);
rasterChart(panels.B, crtB_inf, crtB_fr); forceChart(panels.B, forceB); emgChart(panels.B, emgB);
rasterChart(panels.C, crtC_inf, crtC_fr); forceChart(panels.C, forceC); emgChart(panels.C, emgC);
rasterChart(panels.D, crtD_inf, crtD_fr); forceChart(panels.D, forceD); emgChart(panels.D, emgD);
</script>
</body></html>
